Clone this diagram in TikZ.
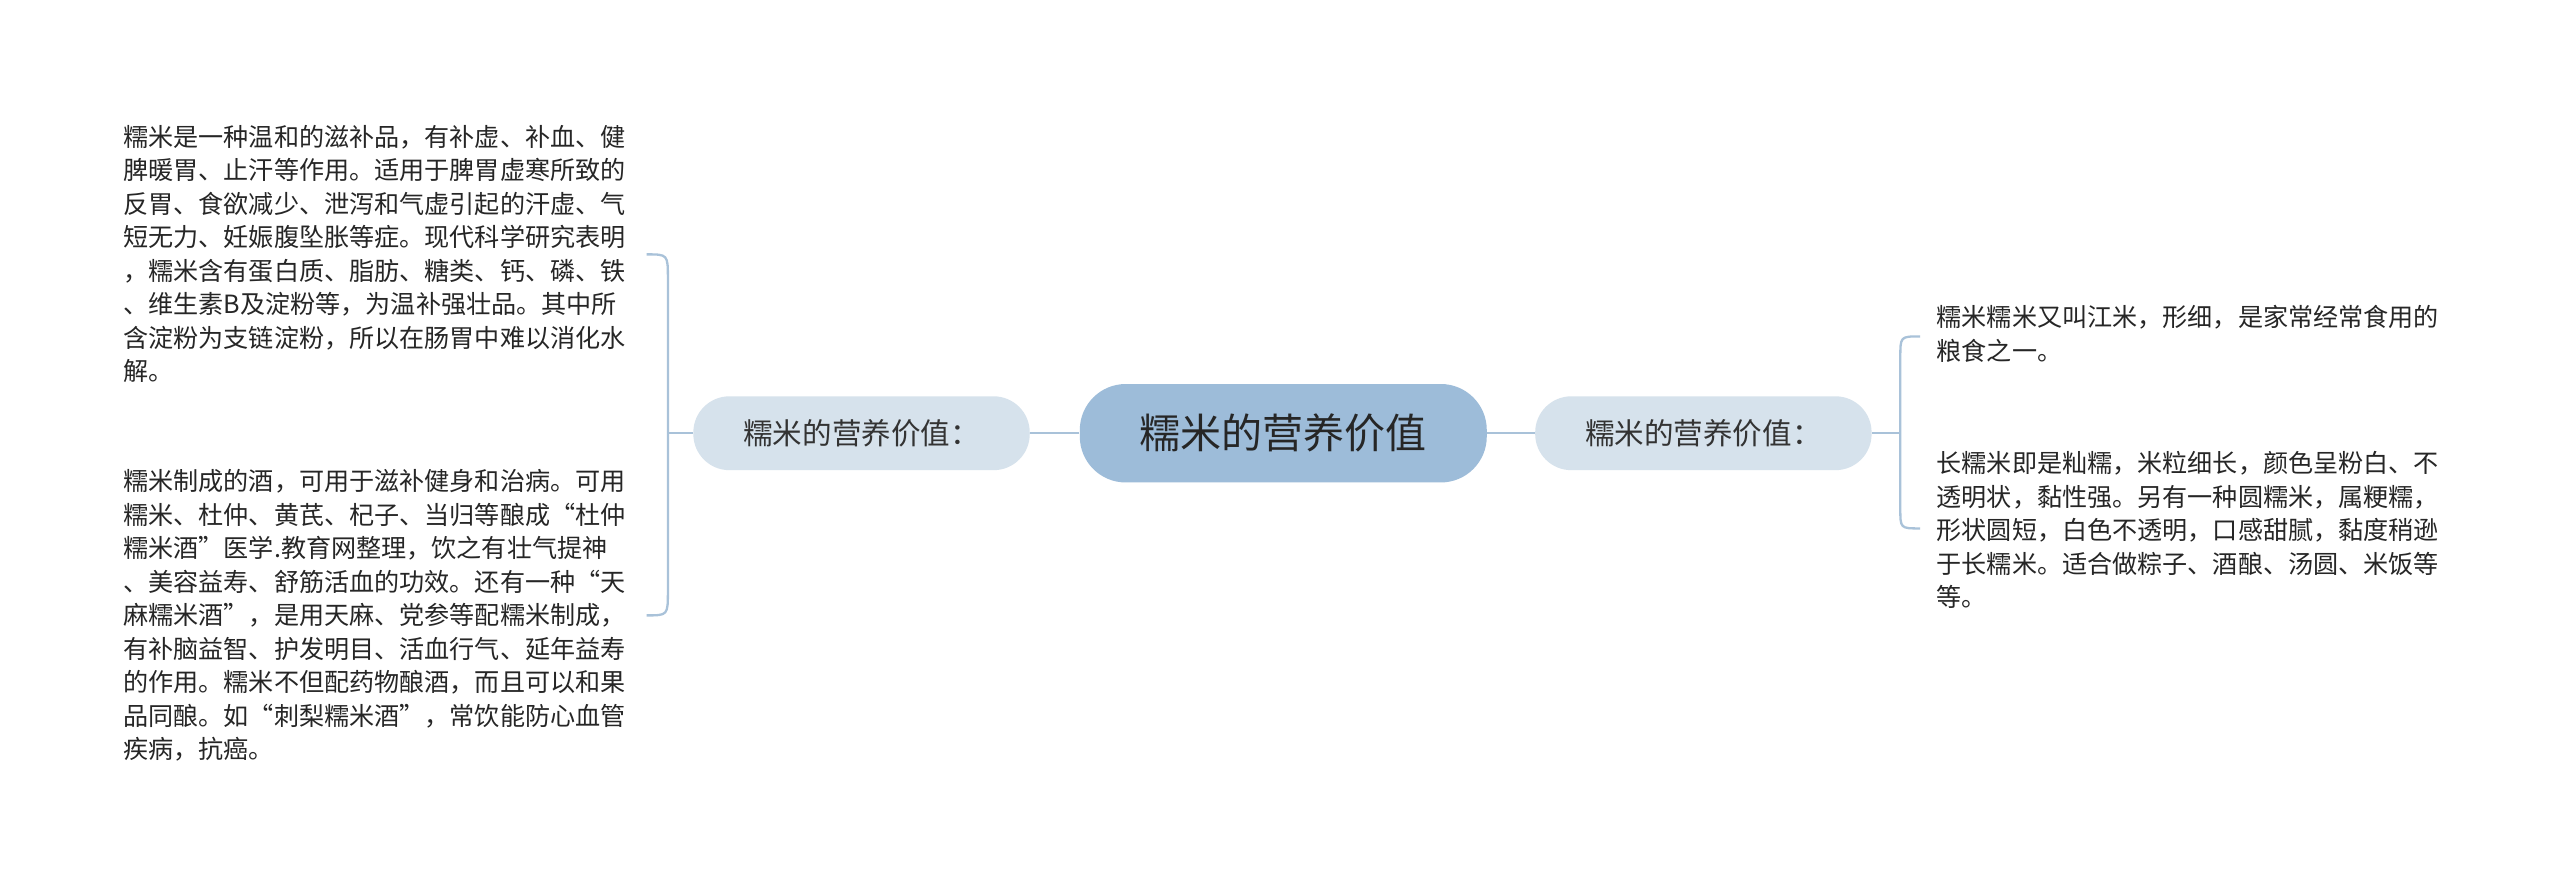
\documentclass[tikz,border=0pt]{standalone}
\usepackage{fontspec}
\setmainfont{Noto Sans CJK SC}
\definecolor{cmain}{RGB}{157,188,217}
\definecolor{csub}{RGB}{214,226,236}
\definecolor{cline}{RGB}{169,194,217}
\begin{document}
\begin{tikzpicture}[x=1pt,y=-1pt,
 leaf/.style={anchor=north west,align=left,inner sep=0pt,font=\fontsize{15.3}{20.4}\selectfont,text=black!85},
 sub/.style={rounded corners=22pt,fill=csub,minimum width=205pt,minimum height=45pt,font=\fontsize{18}{20}\selectfont,text=black!80},
 conn/.style={draw=cline,line width=1.4pt}]
\useasboundingbox[fill=white] (0,0) rectangle (1560,536);
\node[rounded corners=28pt,fill=cmain,minimum width=248pt,minimum height=60pt,font=\fontsize{25}{28}\selectfont,text=black!85] (c) at (782,264) {糯米的营养价值};
\node[sub] (l) at (525,264) {糯米的营养价值：};
\node[sub] (r) at (1038,264) {糯米的营养价值：};
\node[leaf] (l1) at (75,76) {糯米是一种温和的滋补品，有补虚、补血、健\\脾暖胃、止汗等作用。适用于脾胃虚寒所致的\\反胃、食欲减少、泄泻和气虚引起的汗虚、气\\短无力、妊娠腹坠胀等症。现代科学研究表明\\，糯米含有蛋白质、脂肪、糖类、钙、磷、铁\\、维生素B及淀粉等，为温补强壮品。其中所\\含淀粉为支链淀粉，所以在肠胃中难以消化水\\解。};
\node[leaf] (l2) at (75,286) {糯米制成的酒，可用于滋补健身和治病。可用\\糯米、杜仲、黄芪、杞子、当归等酿成“杜仲\\糯米酒”医学.教育网整理，饮之有壮气提神\\、美容益寿、舒筋活血的功效。还有一种“天\\麻糯米酒”，是用天麻、党参等配糯米制成，\\有补脑益智、护发明目、活血行气、延年益寿\\的作用。糯米不但配药物酿酒，而且可以和果\\品同酿。如“刺梨糯米酒”，常饮能防心血管\\疾病，抗癌。};
\node[leaf] (r1) at (1180,186) {糯米糯米又叫江米，形细，是家常经常食用的\\粮食之一。};
\node[leaf] (r2) at (1180,275) {长糯米即是籼糯，米粒细长，颜色呈粉白、不\\透明状，黏性强。另有一种圆糯米，属粳糯，\\形状圆短，白色不透明，口感甜腻，黏度稍逊\\于长糯米。适合做粽子、酒酿、汤圆、米饭等\\等。};
\path[conn] (c.west) -- (l.east);
\path[conn] (c.east) -- (r.west);
\path[conn] (l.west) -- (407,264);
\path[conn] (394,155) .. controls (407,155) .. (407,170) -- (407,360) .. controls (407,375) .. (394,375);
\path[conn] (r.east) -- (1158,264);
\path[conn] (1170,205) .. controls (1158,205) .. (1158,218) -- (1158,310) .. controls (1158,322) .. (1170,322);
\end{tikzpicture}
\end{document}
